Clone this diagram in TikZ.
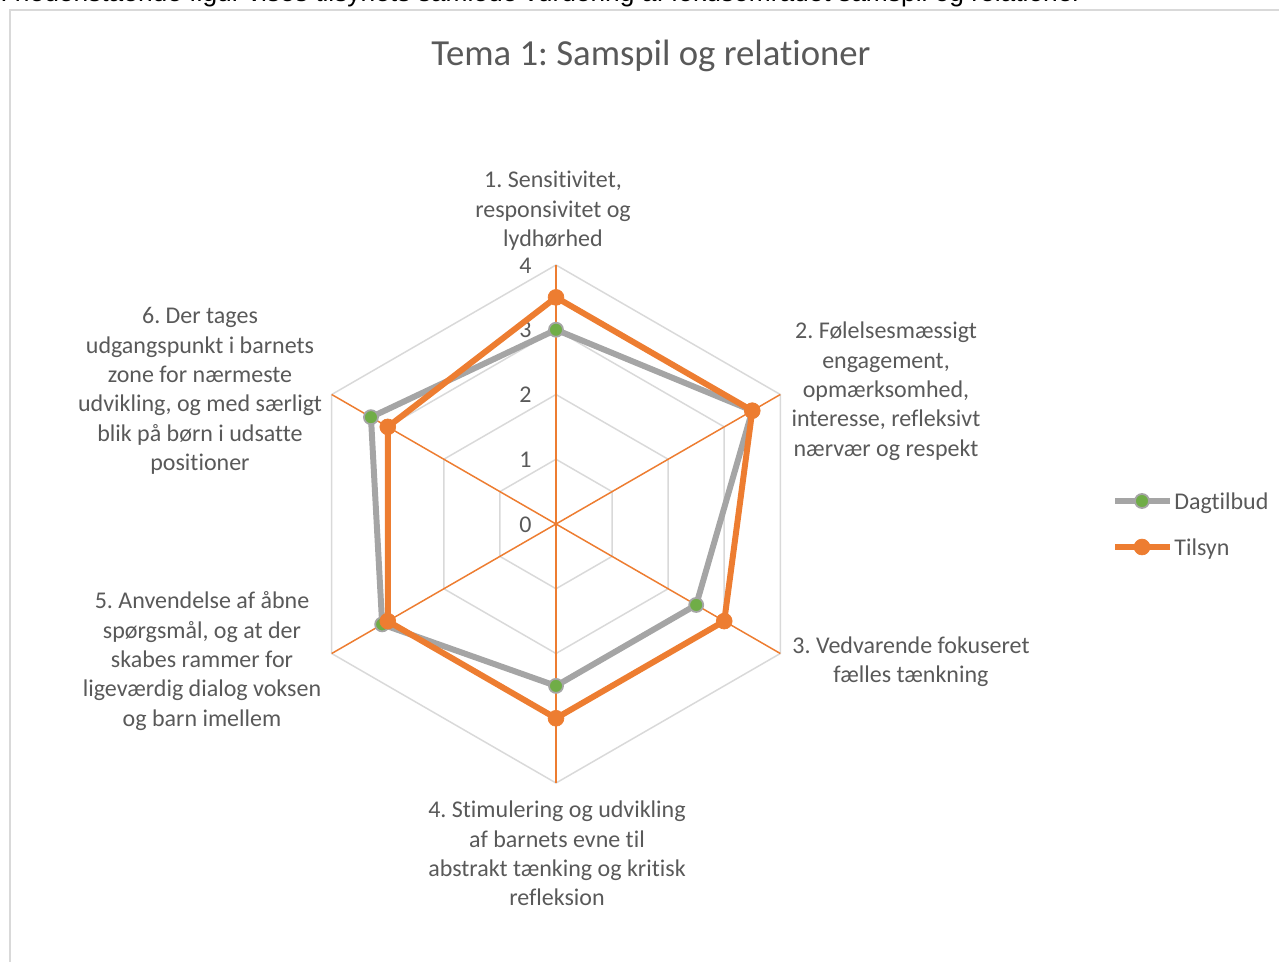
\documentclass[tikz,border=0pt]{standalone}
\usepackage{fontspec}
\setmainfont[Ligatures=NoCommon]{Carlito}
\newfontfamily\arialfont{Liberation Sans}
\usetikzlibrary{positioning}
\definecolor{rot}{RGB}{237,125,49}
\definecolor{grau}{RGB}{165,165,165}
\definecolor{gruen}{RGB}{112,173,71}
\definecolor{lg}{RGB}{217,217,217}
\definecolor{txt}{RGB}{89,89,89}
\frenchspacing

\begin{document}
\begin{tikzpicture}[x=0.02cm,y=-0.02cm]
        \tikzset{
        achse/.style={rot, line width=0.85pt},
        gitter/.style={lg, line width=0.85pt},
        dagtilbud/.style={grau, line width=3.4pt, line join=round},
        tilsyn/.style={rot, line width=3.4pt, line join=round},
        dpunkt/.style={circle, fill=gruen, draw=grau, line width=1pt, minimum size=8pt, inner sep=0pt},
        tpunkt/.style={circle, fill=rot, draw=rot, minimum size=9pt, inner sep=0pt},
        label/.style={font=\fontsize{13.66pt}{16.68pt}\selectfont, text=txt, align=center, inner sep=0pt, anchor=base},
        wert/.style={font=\fontsize{13.66pt}{16.68pt}\selectfont, text=txt, inner sep=0pt, anchor=base east},
        }

        \useasboundingbox (0,0) rectangle (1279,961);

        % Text above the chart (cut off at the top).
        \node[anchor=base west, inner sep=0pt, font=\arialfont\fontsize{15pt}{17pt}\selectfont] (intro) at (0,1)
          {I nedenstående figur vises tilsynets samlede vurdering af fokusområdet samspil og relationer};

        % Chart frame.
        \draw [lg, line width=1.2pt] (10,10) rectangle (1300,1000);

        \node[anchor=base, inner sep=0pt, text=txt, font=\fontsize{20.9pt}{25pt}\selectfont] (titel) at (651,65)
          {Tema 1: Samspil og relationer};

        \begin{scope}[shift={(556,524)}]
        \coordinate (m) at (0,0); % centre

        % Grid.
        \foreach \r in {1,...,4}
          \draw [gitter] (-90:{\r*64.75}) \foreach \a in {-30,30,90,150,210} { -- (\a:{\r*64.75}) } -- cycle;
        \foreach \k in {1,...,6}
          \draw [achse] (m) -- ({-150+60*\k}:259);

        % Scale.
        \foreach \v in {0,...,4}
          \node[wert] (w\v) at (-24,{-64.75*\v+8}) {\v};

        % Data points (axis / Dagtilbud / Tilsyn).
        \foreach \k/\d/\t in {1/3/3.5, 2/3.5/3.5, 3/2.5/3, 4/2.5/3, 5/3.1/3, 6/3.3/3} {
          \coordinate (d\k) at ({-150+60*\k}:{\d*64.75});
          \coordinate (t\k) at ({-150+60*\k}:{\t*64.75});
        }

        \draw [dagtilbud] (d1) -- (d2) -- (d3) -- (d4) -- (d5) -- (d6) -- cycle;
        \foreach \k in {1,...,6}
          \node[dpunkt] at (d\k) {};
        \draw [tilsyn] (t1) -- (t2) -- (t3) -- (t4) -- (t5) -- (t6) -- cycle;
        \foreach \k in {1,...,6}
          \node[tpunkt] at (t\k) {};
        \end{scope}

        % Axis labels (anchored at the baseline of the last line).
        \node[label] (a1) at (553,246.6) {1. Sensitivitet,\\responsivitet og\\lydhørhed};
        \node[label] (a2) at (886,456.2) {2. Følelsesmæssigt\\engagement,\\opmærksomhed,\\interesse, refleksivt\\nærvær og respekt};
        \node[label] (a3) at (911,682.3) {3. Vedvarende fokuseret\\fælles tænkning};
        \node[label] (a4) at (557,905.9) {4. Stimulering og udvikling\\af barnets evne til\\abstrakt tænking og kritisk\\refleksion};
        \node[label] (a5) at (202,726.2) {5. Anvendelse af åbne\\spørgsmål, og at der\\skabes rammer for\\ligeværdig dialog voksen\\og barn imellem};
        \node[label] (a6) at (200,470.5) {6. Der tages\\udgangspunkt i barnets\\zone for nærmeste\\udvikling, og med særligt\\blik på børn i udsatte\\positioner};

        % Legend.
        \coordinate (l1a) at (1115,501);
        \coordinate (l1b) at (1170,501);
        \coordinate (l2a) at (1115,547);
        \coordinate (l2b) at (1170,547);
        \draw [dagtilbud] (l1a) -- (l1b);
        \node[dpunkt] (l1) at (1142,501) {};
        \node[label, anchor=base west] (n1) at (1174,509) {Dagtilbud};
        \draw [tilsyn] (l2a) -- (l2b);
        \node[tpunkt] (l2) at (1142,547) {};
        \node[label, anchor=base west] (n2) at (1174,555) {Tilsyn};
\end{tikzpicture}
\end{document}
